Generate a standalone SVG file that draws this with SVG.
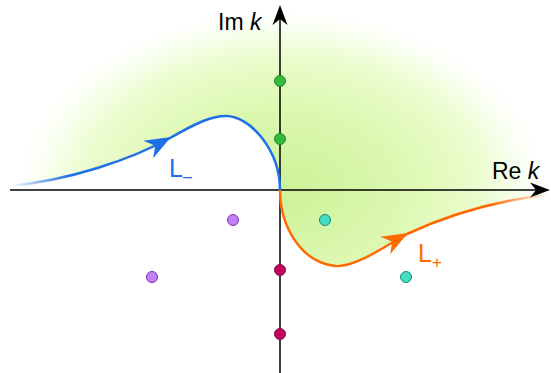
<svg xmlns="http://www.w3.org/2000/svg" width="551" height="373" viewBox="0 0 551 373">
<defs>
<radialGradient id="gz" gradientUnits="userSpaceOnUse" cx="0" cy="0" r="1" gradientTransform="translate(282,190) scale(262,178)">
<stop offset="0" stop-color="#ccf298"/>
<stop offset="0.45" stop-color="#dcf8b0"/>
<stop offset="0.75" stop-color="#ebfcce"/>
<stop offset="0.92" stop-color="#fafff2"/>
<stop offset="1" stop-color="#ffffff"/>
</radialGradient>
<linearGradient id="gm" gradientUnits="userSpaceOnUse" x1="10" y1="0" x2="70" y2="0">
<stop offset="0" stop-color="#1f6fe6" stop-opacity="0"/>
<stop offset="1" stop-color="#1f6fe6"/>
</linearGradient>
<linearGradient id="gp" gradientUnits="userSpaceOnUse" x1="490" y1="0" x2="550" y2="0">
<stop offset="0" stop-color="#ff6a00"/>
<stop offset="1" stop-color="#ff6a00" stop-opacity="0"/>
</linearGradient>
<path id="ah" d="M0,0 L-26,-10 L-18,0 L-26,10 Z"/>
<path id="axh" d="M0,0 L-20,-7.5 L-14,0 L-20,7.5 Z"/>
<style>
.axis{stroke:#000;stroke-width:1.5;fill:none}
.cm{fill:none;stroke:url(#gm);stroke-width:2.5}
.cp{fill:none;stroke:url(#gp);stroke-width:2.5}
.lbl{font-family:"Liberation Sans",Arial,sans-serif;font-size:23px}
.cl{font-family:"Liberation Sans",Arial,sans-serif;font-size:25px}
.pg{fill:#33bb3a;stroke:#1f8a2a;stroke-width:1}
.pv{fill:#c282f5;stroke:#7a2bb8;stroke-width:1}
.pm{fill:#c4005c;stroke:#7a1040;stroke-width:1}
.pt{fill:#45dcc4;stroke:#138c80;stroke-width:1}
</style>
</defs>
<rect width="551" height="373" fill="#fff"/>
<path id="region" d="M10,186 C70,180 130,160 170,138 C195,124 210,116 226,116 C250,116 280,150 280,190 C280,225 300,262 335,266 C355,268 385,246 407,234 C450,214 500,200 548,195 L551,195 L551,0 L0,0 L0,186 Z" fill="url(#gz)"/>
<g id="axes">
<line class="axis" x1="10" y1="190" x2="540" y2="190"/>
<line class="axis" x1="280" y1="373" x2="280" y2="16"/>
<use href="#axh" transform="translate(550,190)"/>
<use href="#axh" transform="translate(280,5) rotate(-90)"/>
<text class="lbl" x="492" y="179">Re <tspan font-style="italic">k</tspan></text>
<text class="lbl" x="218" y="30" font-size="24">Im <tspan font-style="italic">k</tspan></text>
</g>
<g id="connectors">
<g id="Lminus">
<path class="cm" d="M10,186 C70,180 130,160 170,138 C195,124 210,116 226,116 C250,116 280,150 280,190"/>
<use href="#ah" fill="#1f6fe6" transform="translate(171,137) rotate(-29)"/>
<text class="cl" x="169" y="177" fill="#1f6fe6">L<tspan font-size="16" dy="5">–</tspan></text>
</g>
<g id="Lplus">
<path class="cp" d="M280,190 C280,225 300,262 335,266 C355,268 385,246 407,234 C450,214 500,200 548,195"/>
<use href="#ah" fill="#ff6a00" transform="translate(408,233) rotate(-29)"/>
<text class="cl" x="418" y="262" fill="#ff6a00">L<tspan font-size="17" dy="6">+</tspan></text>
</g>
</g>
<g id="p1"><circle class="pg" cx="280" cy="81" r="5.5"/></g>
<g id="p2"><circle class="pg" cx="280" cy="139" r="5.5"/></g>
<g id="p3"><circle class="pv" cx="233" cy="220" r="5.5"/></g>
<g id="p4"><circle class="pv" cx="152" cy="277" r="5.5"/></g>
<g id="p5"><circle class="pt" cx="325" cy="220" r="5.5"/></g>
<g id="p6"><circle class="pt" cx="406" cy="277" r="5.5"/></g>
<g id="p7"><circle class="pm" cx="280" cy="270" r="5.5"/></g>
<g id="p8"><circle class="pm" cx="280" cy="334" r="5.5"/></g>
</svg>
